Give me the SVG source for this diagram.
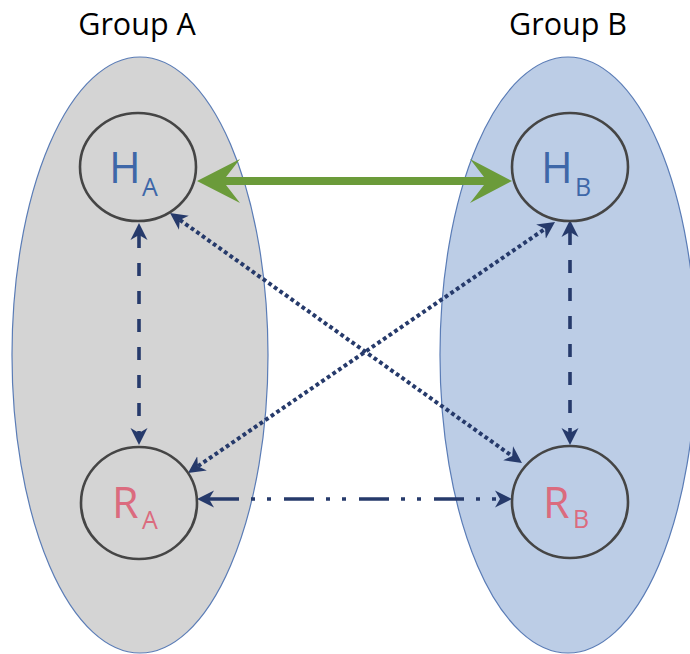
<svg xmlns="http://www.w3.org/2000/svg" width="690" height="654" viewBox="0 0 690 654">
<style>
.grp{stroke:#5A7CB6;stroke-width:1.2}
.node{fill:none;stroke:#454545;stroke-width:2.6}
.lbl{font-family:"Open Sans","Noto Sans",sans-serif;fill:#000}
.h{font-family:"Open Sans","Noto Sans",sans-serif;fill:#3E67A8}
.r{font-family:"Open Sans","Noto Sans",sans-serif;fill:#DB6B7E}
.big{font-size:43px}
.sub{font-size:25px}
.c{fill:none;stroke:#263A6B;stroke-width:3.6}
.dash{stroke-dasharray:13 15}
.dot{stroke-width:4;stroke-dasharray:3.8 3}
.dd{stroke-dasharray:30 12 4 12 4 13}
</style>
<defs>
<marker id="ah" markerUnits="userSpaceOnUse" markerWidth="20" markerHeight="20" viewBox="0 -10 20 20" refX="5" refY="0" orient="auto-start-reverse">
<path d="M17,0 L0,-8.5 L5,0 L0,8.5 Z" fill="#263A6B"/>
</marker>
</defs>
<g id="groupA">
<ellipse class="grp" cx="140" cy="355" rx="128" ry="298" fill="#D4D4D4"/>
<text class="lbl" x="137" y="35" font-size="30.5" text-anchor="middle">Group A</text>
</g>
<g id="groupB">
<ellipse class="grp" cx="568" cy="355" rx="128" ry="298" fill="#BCCDE6"/>
<text class="lbl" x="568" y="35" font-size="30.5" text-anchor="middle">Group B</text>
</g>
<g id="connectors">
<path d="M197,181 L240,159 L226,177 L484,177 L470,159 L512,181 L470,203 L484,185 L226,185 L240,203 Z" fill="#6B9B3A"/>
<line class="c dash" x1="139" y1="235" x2="139" y2="433" marker-start="url(#ah)" marker-end="url(#ah)"/>
<line class="c dash" x1="570" y1="232" x2="570" y2="433" marker-start="url(#ah)" marker-end="url(#ah)"/>
<line class="c dot" x1="179.8" y1="219.9" x2="512.2" y2="456.1" marker-start="url(#ah)" marker-end="url(#ah)"/>
<line class="c dot" x1="197.9" y1="466.2" x2="545.1" y2="228.8" marker-start="url(#ah)" marker-end="url(#ah)"/>
<line class="c dd" x1="209" y1="499" x2="500" y2="499" marker-start="url(#ah)" marker-end="url(#ah)"/>
</g>
<g id="HA">
<ellipse class="node" cx="138" cy="167" rx="58" ry="54"/>
<text class="h big" x="109" y="183">H</text>
<text class="h sub" x="142" y="196">A</text>
</g>
<g id="HB">
<ellipse class="node" cx="570" cy="167" rx="58" ry="54"/>
<text class="h big" x="541" y="183">H</text>
<text class="h sub" x="575" y="196">B</text>
</g>
<g id="RA">
<ellipse class="node" cx="139" cy="503" rx="58" ry="56"/>
<text class="r big" x="112" y="518">R</text>
<text class="r sub" x="142" y="529">A</text>
</g>
<g id="RB">
<ellipse class="node" cx="570" cy="502" rx="58" ry="56"/>
<text class="r big" x="543" y="518">R</text>
<text class="r sub" x="573" y="528">B</text>
</g>
</svg>
